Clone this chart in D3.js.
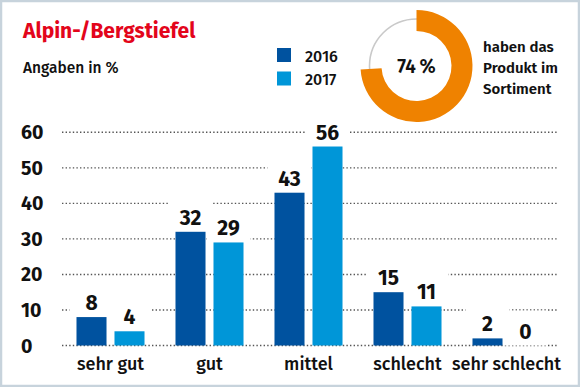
<!DOCTYPE html>
<meta charset="utf-8">
<html>
<head>
  <style>
  body { margin: 0; background: #fff; }
  text { font-family: "Fira Sans", "Noto Sans", sans-serif; fill: #111; }
  .title { font-size: 21px; font-weight: 700; fill: #e3051b; }
  .sub { font-size: 15.5px; font-weight: 500; }
  .legend text { font-size: 16px; font-weight: 500; }
  .ytick { font-size: 19.5px; font-weight: 700; }
  .cat { font-size: 18px; font-weight: 500; }
  .val { font-size: 21px; font-weight: 700; }
  .grid line { stroke: #555; stroke-width: 1.4; stroke-dasharray: 1.4,2.2; }
  </style>
</head>
<body>
<svg width="580" height="387"></svg>
<script src="https://cdn.jsdelivr.net/npm/d3@7"></script>
<script>

// data
var categories = ["sehr gut", "gut", "mittel", "schlecht", "sehr schlecht"];
var years = ["2016", "2017"];
var values2016 = [8, 32, 43, 15, 2];
var values2017 = [4, 29, 56, 11, 0];
var yTicks = [0, 10, 20, 30, 40, 50, 60];
var shareInRange = 74;
var shareText = ["haben das", "Produkt im", "Sortiment"];

var colors = { "2016": "#00529f", "2017": "#0096d8" };

var svg = d3.select("svg"),
    width = +svg.attr("width"),
    height = +svg.attr("height");

// frame
svg.append("rect")
    .attr("x", 1).attr("y", 1)
    .attr("width", width - 2).attr("height", height - 2)
    .attr("fill", "#fff")
    .attr("stroke", "#c7d3dc")
    .attr("stroke-width", 2.5);

svg.append("text").attr("class", "title")
    .attr("x", 23).attr("y", 38)
    .text("Alpin-/Bergstiefel");

svg.append("text").attr("class", "sub")
    .attr("x", 23).attr("y", 72.5)
    .text("Angaben in %");

// legend
var legend = svg.append("g").attr("class", "legend")
  .selectAll("g")
  .data(years)
  .enter().append("g")
    .attr("transform", function(d, i) { return "translate(277," + (48 + i * 23.5) + ")"; });

legend.append("rect")
    .attr("width", 14).attr("height", 14)
    .attr("fill", function(d) { return colors[d]; });

legend.append("text")
    .attr("x", 28).attr("y", 13.5)
    .text(function(d) { return d; });

// donut
var donut = svg.append("g").attr("transform", "translate(416.5,66)");
var arc = d3.arc();

donut.append("circle")
    .attr("r", 47)
    .attr("fill", "none")
    .attr("stroke", "#c9c9c9")
    .attr("stroke-width", 1.6);

donut.append("path")
    .attr("fill", "#ef8200")
    .attr("d", arc({
      innerRadius: 35,
      outerRadius: 56,
      startAngle: 0,
      endAngle: 2 * Math.PI * shareInRange / 100
    }));

donut.append("text")
    .attr("text-anchor", "middle")
    .attr("y", 6.5)
    .style("font-size", "19px")
    .style("font-weight", 600)
    .text(shareInRange + "\u2009%");

svg.append("g")
  .selectAll("text")
  .data(shareText)
  .enter().append("text")
    .attr("x", 483)
    .attr("y", function(d, i) { return 51.5 + i * 21; })
    .style("font-size", "15px")
    .style("font-weight", 600)
    .text(function(d) { return d; });

// scales
var y = d3.scaleLinear().domain([0, 60]).range([345.5, 132.3]);

var x0 = d3.scaleBand()
    .domain(categories)
    .range([61, 556])
    .paddingInner(0.313)
    .paddingOuter(0.1565);

var x1 = d3.scaleBand()
    .domain(years)
    .range([0, x0.bandwidth()])
    .paddingInner(0.21);

// gridlines
svg.append("g").attr("class", "grid")
  .selectAll("line")
  .data(yTicks)
  .enter().append("line")
    .attr("x1", 62).attr("x2", 557)
    .attr("y1", function(d) { return y(d); })
    .attr("y2", function(d) { return y(d); });

svg.append("g")
  .selectAll("text")
  .data(yTicks)
  .enter().append("text")
    .attr("class", "ytick")
    .attr("x", 21)
    .attr("y", function(d) { return y(d); })
    .attr("dy", "0.36em")
    .text(function(d) { return d; });

var rows = [];
categories.forEach(function(c, i) {
  rows.push({ cat: c, year: "2016", value: values2016[i] });
  rows.push({ cat: c, year: "2017", value: values2017[i] });
});

function bx(d) { return x0(d.cat) + x1(d.year); }

// white boxes behind the value labels
svg.append("g")
  .selectAll("rect")
  .data(rows)
  .enter().append("rect")
    .attr("x", function(d) { return bx(d) - 7; })
    .attr("y", function(d) { return y(d.value) - 35; })
    .attr("width", x1.bandwidth() + 14)
    .attr("height", 35)
    .attr("fill", "#fff");

svg.append("g")
  .selectAll("rect")
  .data(rows)
  .enter().append("rect")
    .attr("x", bx)
    .attr("y", function(d) { return y(d.value); })
    .attr("width", x1.bandwidth())
    .attr("height", function(d) { return y(0) - y(d.value); })
    .attr("fill", function(d) { return colors[d.year]; });

svg.append("g")
  .selectAll("text")
  .data(rows)
  .enter().append("text")
    .attr("class", "val")
    .attr("text-anchor", "middle")
    .attr("x", function(d) { return bx(d) + x1.bandwidth() / 2; })
    .attr("y", function(d) { return y(d.value) - 7; })
    .text(function(d) { return d.value; });

svg.append("g")
  .selectAll("text")
  .data(categories)
  .enter().append("text")
    .attr("class", "cat")
    .attr("text-anchor", "middle")
    .attr("x", function(d) { return x0(d) + x0.bandwidth() / 2; })
    .attr("y", 369.5)
    .text(function(d) { return d; });

</script>
</body>
</html>
